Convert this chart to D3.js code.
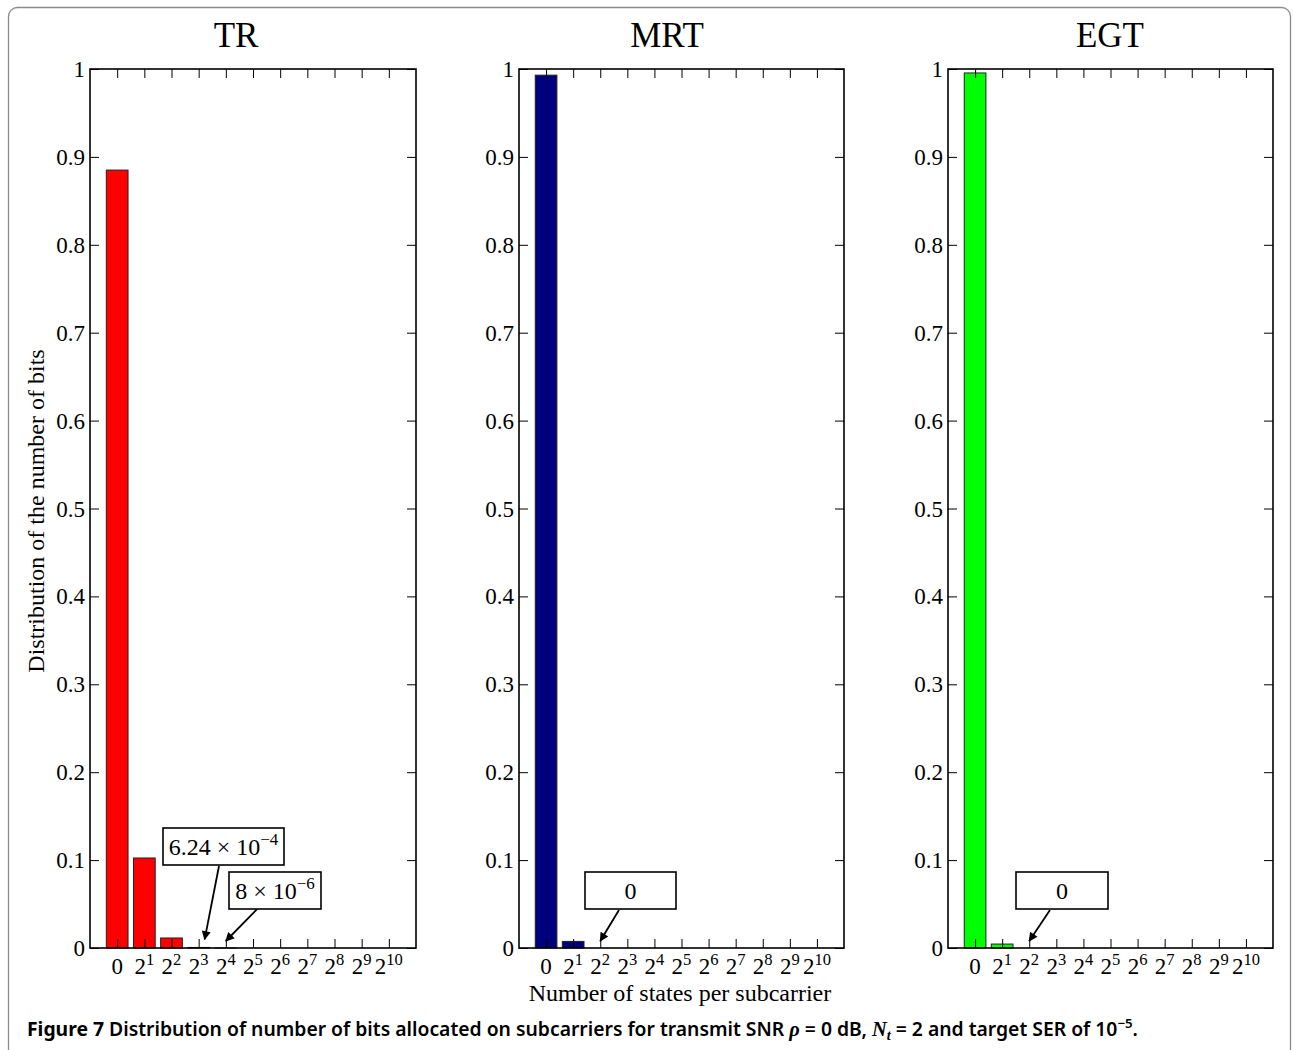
<!DOCTYPE html>
<html>
<head>
<meta charset="utf-8">
<script src="https://cdn.jsdelivr.net/npm/d3@7"></script>
<style>
  html, body { margin: 0; padding: 0; background: #fff; }
  svg { display: block; }
</style>
</head>
<body>
<svg id="chart" width="1294" height="1050"></svg>
<script>
// ---------------- data ----------------
const categories = ["0", "2^1", "2^2", "2^3", "2^4", "2^5", "2^6", "2^7", "2^8", "2^9", "2^10"];
const panelTitles = ["TR", "MRT", "EGT"];
const valuesTR  = [0.885, 0.1024, 0.0114, 0.000624, 0.000008, 0, 0, 0, 0, 0, 0];
const valuesMRT = [0.993, 0.0075, 0, 0, 0, 0, 0, 0, 0, 0, 0];
const valuesEGT = [0.9955, 0.0045, 0, 0, 0, 0, 0, 0, 0, 0, 0];
const barColors = ["#ff0000", "#00007f", "#00ff00"];
const yTicks = [0, 0.1, 0.2, 0.3, 0.4, 0.5, 0.6, 0.7, 0.8, 0.9, 1];
const annotationsTR  = [{text: "6.24 × 10", exp: "−4", cat: 3, val: 0.0018}, {text: "8 × 10", exp: "−6", cat: 4, val: 0.0}];
const annotationsMRT = [{text: "0", exp: "", cat: 2, val: 0.0}];
const annotationsEGT = [{text: "0", exp: "", cat: 2, val: 0.0}];
const yLabel = "Distribution of the number of bits";
const xLabel = "Number of states per subcarrier";

// ---------------- layout ----------------
const svg = d3.select("#chart");
const serif = "'Liberation Serif', 'Times New Roman', serif";

svg.append("rect").attr("x", 8.5).attr("y", 7.5).attr("width", 1282).attr("height", 1100)
  .attr("rx", 9).attr("fill", "none").attr("stroke", "#8a8a8a").attr("stroke-width", 1.3);

const panels = [
  {left: 90, right: 416, titleX: 236, values: valuesTR, ann: annotationsTR,
   boxes: [{x0: 163, y0: 828, x1: 284, y1: 865, from: [219, 866], tipDx: 6},
           {x0: 229, y0: 872, x1: 321, y1: 909, from: [265, 901], tipDx: 0}]},
  {left: 519, right: 844, titleX: 667, values: valuesMRT, ann: annotationsMRT,
   boxes: [{x0: 585, y0: 872, x1: 676, y1: 909, from: [619, 910], tipDx: 0}]},
  {left: 948, right: 1273, titleX: 1110, values: valuesEGT, ann: annotationsEGT,
   boxes: [{x0: 1016, y0: 872, x1: 1108, y1: 909, from: [1050, 910], tipDx: 0}]}
];
const plotTop = 69, plotBottom = 948;
const tickFont = 23, labelFont = 24, titleFont = 35, annFont = 24;

svg.append("defs").append("marker")
  .attr("id", "arrow").attr("viewBox", "0 0 10 10").attr("refX", 9).attr("refY", 5)
  .attr("markerWidth", 12).attr("markerHeight", 9).attr("markerUnits", "userSpaceOnUse")
  .attr("orient", "auto")
  .append("path").attr("d", "M0,0 L10,5 L0,10 z").attr("fill", "#000");

function addLabel(sel, lab, baseSize) {
  const parts = lab.split("^");
  sel.append("tspan").text(parts[0]);
  if (parts.length > 1) {
    sel.append("tspan").attr("dy", -9).attr("font-size", baseSize * 0.72).text(parts[1]);
  }
}

panels.forEach((p, pi) => {
  const x = d3.scaleLinear().domain([-1, 11]).range([p.left, p.right]);
  const y = d3.scaleLinear().domain([0, 1]).range([plotBottom, plotTop]);
  const g = svg.append("g");
  const bw = (x(1) - x(0)) * 0.8;

  g.selectAll("rect.bar").data(p.values).join("rect").attr("class", "bar")
    .attr("x", (d, i) => x(i) - bw / 2)
    .attr("width", bw)
    .attr("y", d => y(d))
    .attr("height", d => plotBottom - y(d))
    .attr("fill", barColors[pi])
    .attr("stroke", d => d > 0 ? "#222" : "none")
    .attr("stroke-width", 1);

  const tickLen = 9;
  const yAxisL = d3.axisRight(y).tickValues(yTicks).tickSize(tickLen).tickFormat("");
  const yAxisR = d3.axisLeft(y).tickValues(yTicks).tickSize(tickLen).tickFormat("");
  const xAxisB = d3.axisTop(x).tickValues(d3.range(categories.length)).tickSize(tickLen).tickFormat("");
  const xAxisT = d3.axisBottom(x).tickValues(d3.range(categories.length)).tickSize(tickLen).tickFormat("");
  [[yAxisL, `translate(${p.left},0)`], [yAxisR, `translate(${p.right},0)`],
   [xAxisB, `translate(0,${plotBottom})`], [xAxisT, `translate(0,${plotTop})`]].forEach(([ax, tr]) => {
    const a = g.append("g").attr("transform", tr).call(ax);
    a.select(".domain").remove();
    a.selectAll("line").attr("stroke", "#000").attr("stroke-width", 1);
  });

  g.append("rect").attr("x", p.left).attr("y", plotTop).attr("width", p.right - p.left)
    .attr("height", plotBottom - plotTop).attr("fill", "none").attr("stroke", "#000").attr("stroke-width", 1.6);

  g.selectAll("text.yt").data(yTicks).join("text").attr("class", "yt")
    .attr("x", p.left - 5).attr("y", d => y(d) + 8)
    .attr("text-anchor", "end").attr("font-family", serif).attr("font-size", tickFont)
    .text(d => d3.format("~g")(d));

  g.selectAll("text.xt").data(categories).join("text").attr("class", "xt")
    .attr("x", (d, i) => x(i)).attr("y", 974)
    .attr("text-anchor", "middle").attr("font-family", serif).attr("font-size", tickFont)
    .each(function(d) { addLabel(d3.select(this), d, tickFont); });

  svg.append("text").attr("x", p.titleX).attr("y", 47).attr("text-anchor", "middle")
    .attr("font-family", serif).attr("font-size", titleFont).text(panelTitles[pi]);

  p.ann.forEach((a, ai) => {
    const b = p.boxes[ai];
    g.append("line").attr("x1", b.from[0]).attr("y1", b.from[1])
      .attr("x2", x(a.cat) + b.tipDx).attr("y2", y(a.val) - 7)
      .attr("stroke", "#000").attr("stroke-width", 1.8).attr("marker-end", "url(#arrow)");
    g.append("rect").attr("x", b.x0).attr("y", b.y0).attr("width", b.x1 - b.x0).attr("height", b.y1 - b.y0)
      .attr("fill", "#fff").attr("stroke", "#000").attr("stroke-width", 1.6);
    const t = g.append("text").attr("x", (b.x0 + b.x1) / 2).attr("y", (b.y0 + b.y1) / 2 + 8)
      .attr("text-anchor", "middle").attr("font-family", serif).attr("font-size", annFont);
    t.append("tspan").text(a.text);
    if (a.exp) t.append("tspan").attr("dy", -10).attr("font-size", 17).text(a.exp);
  });
});

svg.append("text").attr("transform", "translate(44,511) rotate(-90)").attr("text-anchor", "middle")
  .attr("font-family", serif).attr("font-size", labelFont).text(yLabel);
svg.append("text").attr("x", 680).attr("y", 1001).attr("text-anchor", "middle")
  .attr("font-family", serif).attr("font-size", labelFont).text(xLabel);

const cap = svg.append("text").attr("x", 0).attr("y", 0)
  .attr("font-family", "'Noto Sans', 'Open Sans', sans-serif").attr("font-size", 19).attr("font-weight", 600);
cap.append("tspan").attr("font-weight", 700).text("Figure 7");
cap.append("tspan").text(" Distribution of number of bits allocated on subcarriers for transmit SNR ");
cap.append("tspan").attr("font-family", serif).attr("font-style", "italic").attr("font-size", 20).text("ρ");
cap.append("tspan").text(" = 0 dB, ");
cap.append("tspan").attr("font-family", serif).attr("font-style", "italic").attr("font-size", 20).text("N");
cap.append("tspan").attr("font-family", serif).attr("font-style", "italic").attr("font-size", 14).attr("dy", 4).text("t");
cap.append("tspan").attr("dy", -4).text(" = 2 and target SER of 10");
cap.append("tspan").attr("dy", -8).attr("font-size", 13).text("−5");
cap.append("tspan").attr("dy", 8).text(".");
const w = cap.node().getComputedTextLength();
const targetW = 1112;
cap.attr("transform", `translate(27,1036) scale(${targetW / w},1)`);
</script>
</body>
</html>
